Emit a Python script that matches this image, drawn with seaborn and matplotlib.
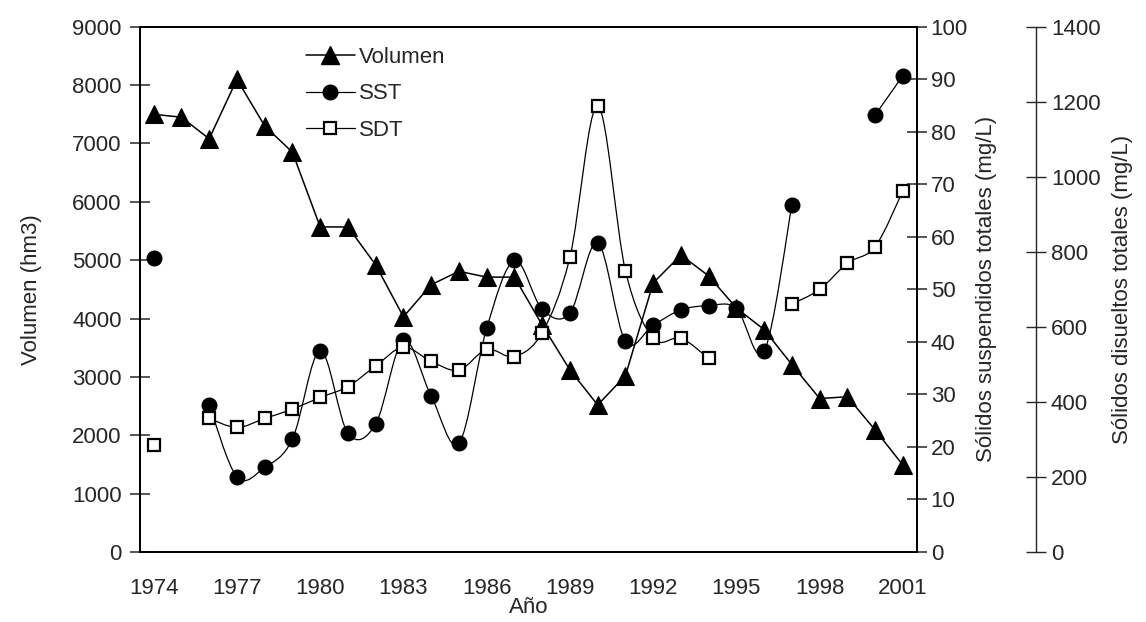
"""Volumen, SST y SDT 1974-2001 (eje y triple)."""
import numpy as np
import matplotlib
matplotlib.use("Agg")
import matplotlib.pyplot as plt
from matplotlib.path import Path
from matplotlib.patches import PathPatch
from matplotlib.lines import Line2D
import seaborn as sns

# ---------------- datos ----------------
years = list(range(1974, 2002))
volumen = [7500, 7450, 7080, 8100, 7300, 6850, 5570, 5570, 4920, 4030,
           4580, 4810, 4710, 4710, 3890, 3120, 2520, 3020, 4610, 5090,
           4730, 4180, 3810, 3210, 2630, 2660, 2090, 1490]
sst = [56, np.nan, 28.0, 14.3, 16.1, 21.5, 38.3, 22.6, 24.4, 40.3,
       29.7, 20.7, 42.6, 55.5, 46.2, 45.5, 58.9, 40.1, 43.2, 46.1,
       46.9, 46.4, 38.2, 66.1, np.nan, np.nan, 83.2, 90.7]
sdt = [285, np.nan, 356, 332, 356, 381, 412, 441, 496, 546,
       508, 485, 540, 521, 585, 786, 1189, 750, 570, 570,
       516, np.nan, np.nan, 661, 700, 770, 814, 963]
xlabels = [str(y) for y in range(1974, 2002, 3)]

sns.set_style("white")
plt.rcParams["font.family"] = ["Liberation Sans", "DejaVu Sans"]
plt.rcParams["axes.linewidth"] = 1.3
FS = 16


def smooth_segments(ax, xs, ys, lw=0.9):
    """Curva suavizada tipo Excel (Catmull-Rom -> Bezier), corta en NaN."""
    xs = np.asarray(xs, float)
    ys = np.asarray(ys, float)
    ok = ~np.isnan(ys)
    runs, cur = [], []
    for i in range(len(xs)):
        if ok[i]:
            cur.append(i)
        else:
            if cur:
                runs.append(cur)
            cur = []
    if cur:
        runs.append(cur)
    for run in runs:
        if len(run) < 2:
            continue
        pts = np.column_stack([xs[run], ys[run]])
        n = len(pts)
        verts = [pts[0]]
        codes = [Path.MOVETO]
        for i in range(n - 1):
            p0 = pts[max(i - 1, 0)]
            p1 = pts[i]
            p2 = pts[i + 1]
            p3 = pts[min(i + 2, n - 1)]
            verts += [p1 + (p2 - p0) / 6, p2 - (p3 - p1) / 6, p2]
            codes += [Path.CURVE4] * 3
        ax.add_patch(PathPatch(Path(verts, codes), fill=False,
                               edgecolor="black", lw=lw, zorder=2))


fig = plt.figure(figsize=(11.46, 6.22), dpi=100)
ax = fig.add_axes([0.122, 0.1125, 0.678, 0.8445])
ax2 = ax.twinx()
ax3 = ax.twinx()

# Volumen (eje principal)
sns.lineplot(x=years, y=volumen, ax=ax, color="black", lw=1.1,
             marker="^", markersize=12.5, markeredgecolor="black",
             markerfacecolor="black", legend=False)

# SST
smooth_segments(ax2, years, sst)
ax2.plot(years, sst, ls="none", marker="o", ms=10.5, mfc="black",
         mec="black", zorder=3)

# SDT
smooth_segments(ax3, years, sdt)
ax3.plot(years, sdt, ls="none", marker="s", ms=9, mfc="white",
         mec="black", mew=1.6, zorder=3)

# ejes
ax.set_xlim(1973.5, 2001.5)
ax.set_ylim(0, 9000)
ax2.set_ylim(0, 100)
ax3.set_ylim(0, 1400)

ax.set_xticks(np.arange(1973.5, 2002, 1))
ax.set_xticklabels([])
ax.set_xticks(range(1974, 2002, 3), minor=True)
ax.set_xticklabels(xlabels, minor=True, fontsize=FS)
ax.tick_params(axis="x", which="major", direction="inout", length=14,
               width=1.1)
ax.tick_params(axis="x", which="minor", length=0, pad=19)

ax.set_yticks(range(0, 9001, 1000))
ax.tick_params(axis="y", direction="inout", length=14, width=1.1,
               labelsize=FS, pad=6)
ax2.set_yticks(range(0, 101, 10))
ax2.tick_params(axis="y", direction="inout", length=14, width=1.1,
                labelsize=FS, pad=3)
ax3.set_yticks(range(0, 1401, 200))
ax3.tick_params(axis="y", direction="inout", length=14, width=1.0,
                labelsize=FS, pad=4)

for s in ["top", "left", "bottom"]:
    ax3.spines[s].set_visible(False)
ax3.spines["right"].set_position(("axes", 1.153))
ax3.spines["right"].set_linewidth(1.0)
for a in (ax, ax2):
    for s in a.spines.values():
        s.set_color("black")

ax.set_xlabel("Año", fontsize=FS, labelpad=-2)
ax.set_ylabel("Volumen (hm3)", fontsize=FS, labelpad=22)
ax2.set_ylabel("Sólidos suspendidos totales (mg/L)", fontsize=FS,
               labelpad=6)
ax3.set_ylabel("Sólidos disueltos totales (mg/L)", fontsize=FS,
               labelpad=8)

handles = [
    Line2D([], [], color="black", lw=1.1, marker="^", ms=12.5),
    Line2D([], [], color="black", lw=0.9, marker="o", ms=10.5),
    Line2D([], [], color="black", lw=0.9, marker="s", ms=9, mfc="white",
           mew=1.6),
]
ax3.legend(handles, ["Volumen", "SST", "SDT"], loc="upper left",
           bbox_to_anchor=(0.188, 1.0), frameon=False, fontsize=FS,
           handlelength=2.2, handletextpad=0.2, labelspacing=0.7)

fig.savefig("out.png", dpi=100)
